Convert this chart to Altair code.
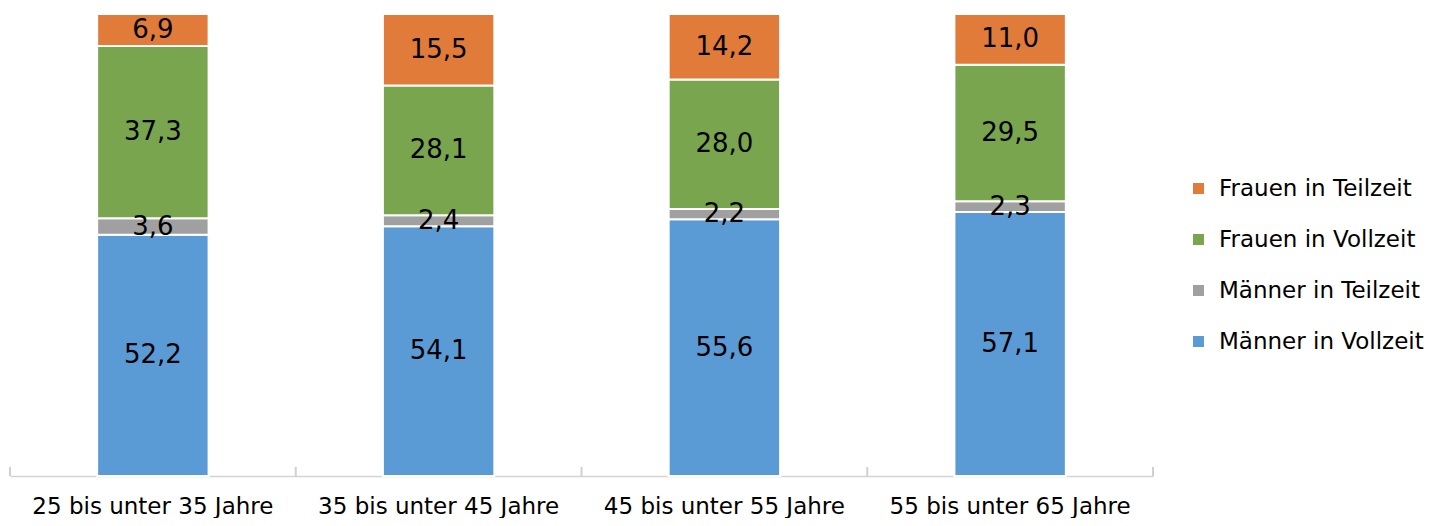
import altair as alt
import pandas as pd

categories = ["25 bis unter 35 Jahre", "35 bis unter 45 Jahre",
              "45 bis unter 55 Jahre", "55 bis unter 65 Jahre"]
series = ["Männer in Vollzeit", "Männer in Teilzeit",
          "Frauen in Vollzeit", "Frauen in Teilzeit"]
maenner_vollzeit = [52.2, 54.1, 55.6, 57.1]
maenner_teilzeit = [3.6, 2.4, 2.2, 2.3]
frauen_vollzeit = [37.3, 28.1, 28.0, 29.5]
frauen_teilzeit = [6.9, 15.5, 14.2, 11.0]

legend_order = ["Frauen in Teilzeit", "Frauen in Vollzeit",
                "Männer in Teilzeit", "Männer in Vollzeit"]
colors = ["#E07B39", "#78A54E", "#A0A0A0", "#5B9BD5"]

rows = []
for s_i, (s, vals) in enumerate(zip(series, [maenner_vollzeit, maenner_teilzeit,
                                              frauen_vollzeit, frauen_teilzeit])):
    for c, v in zip(categories, vals):
        rows.append({"cat": c, "series": s, "order": s_i, "value": v})
df = pd.DataFrame(rows)

FONT = "DejaVu Sans"
H = 462
W = 1143
P_IN, P_OUT = 0.61, 0.305
STEP = W / (len(categories) - P_IN + 2 * P_OUT)
GAP = STEP * P_IN / 2  # distance from bar edge to category boundary

x_enc = alt.X("cat:N", sort=categories,
              scale=alt.Scale(paddingInner=P_IN, paddingOuter=P_OUT),
              axis=alt.Axis(title=None, labelAngle=0, ticks=False,
                            domainColor="#D4D4D4", domainWidth=1.5,
                            labelFont=FONT, labelFontSize=23, labelColor="#000000",
                            labelBaseline="alphabetic", labelPadding=37,
                            labelLimit=0))

base = alt.Chart(df).transform_stack(
    stack="value", groupby=["cat"], as_=["v0", "v1"],
    sort=[alt.SortField("order", order="ascending")]
).transform_joinaggregate(
    total="sum(value)", groupby=["cat"]
).transform_calculate(
    y0="datum.v0 / datum.total * 100",
    y1="datum.v1 / datum.total * 100",
    mid="(datum.v0 + datum.v1) / 2 / datum.total * 100",
    label="replace(format(datum.value, '.1f'), '.', ',')"
)

yscale = alt.Scale(domain=[0, 100], nice=False, zero=True)

bars = base.mark_bar(stroke="white", strokeWidth=2).encode(
    x=x_enc,
    y=alt.Y("y0:Q", scale=yscale, axis=None),
    y2="y1:Q",
    color=alt.Color("series:N", sort=legend_order,
                    scale=alt.Scale(domain=legend_order, range=colors),
                    legend=alt.Legend(title=None, orient="none", legendX=1177, legendY=163,
                                      symbolType="square", symbolSize=121,
                                      symbolStrokeWidth=0,
                                      labelFont=FONT, labelFontSize=23, labelColor="#000000",
                                      labelOffset=9, rowPadding=27, padding=0,
                                      labelLimit=400))
)

texts = base.mark_text(font=FONT, fontSize=26, color="#000000", baseline="middle").encode(
    x=alt.X("cat:N", sort=categories),
    y=alt.Y("mid:Q", scale=yscale),
    text="label:N"
)

tick_df = pd.DataFrame({"cat": categories})
ticks_start = alt.Chart(tick_df).mark_rule(color="#D0D0D0", strokeWidth=2, xOffset=-GAP).encode(
    x=alt.X("cat:N", sort=categories, bandPosition=0),
    y=alt.value(H - 9), y2=alt.value(H)
)
ticks_end = alt.Chart(tick_df).transform_filter(
    alt.datum.cat == categories[-1]
).mark_rule(color="#D0D0D0", strokeWidth=2, xOffset=GAP).encode(
    x=alt.X("cat:N", sort=categories, bandPosition=1),
    y=alt.value(H - 9), y2=alt.value(H)
)

chart = alt.layer(bars, texts, ticks_start, ticks_end).properties(
    width=W, height=H,
    autosize=alt.AutoSizeParams(type="none"),
    padding={"left": 2, "top": 6, "right": 281, "bottom": 42},
    background="white"
).configure_view(stroke="transparent", strokeWidth=0)

chart.save("out.html", embed_options={"renderer": "svg", "actions": False})
